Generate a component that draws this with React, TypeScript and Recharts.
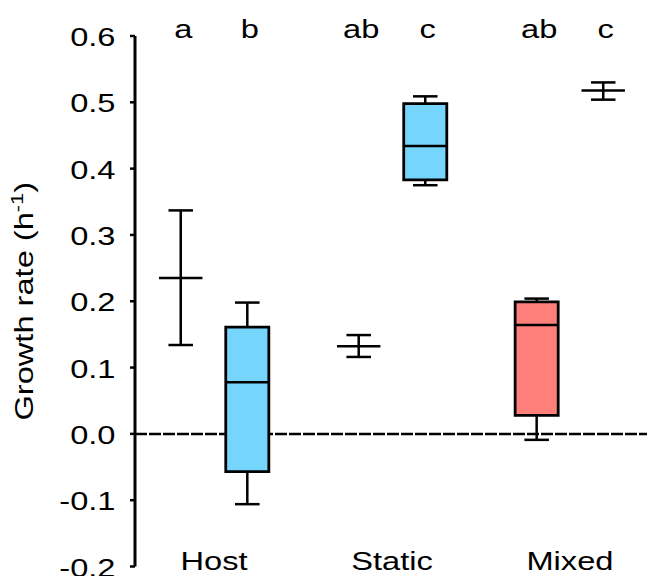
import React from 'react';
import { ComposedChart, XAxis, YAxis, ReferenceArea, ReferenceLine, Scatter } from 'recharts';

// ---------- data ----------
const groupNames = ['Host', 'Static', 'Mixed'];
const groupIndex = [1, 2, 3];
const yTicks = [-0.2, -0.1, 0, 0.1, 0.2, 0.3, 0.4, 0.5, 0.6];

// six measurements, two per group: left / right
const itemGroup = [1, 1, 2, 2, 3, 3];
const itemSide = [-1, 1, -1, 1, -1, 1];
const itemIsBox = [false, true, false, true, true, false];
const itemLetter = ['a', 'b', 'ab', 'c', 'ab', 'c'];
const itemLow = [0.134, -0.106, 0.116, 0.375, -0.009, 0.504];
const itemQ1: (number | null)[] = [null, -0.057, null, 0.383, 0.028, null];
const itemMid = [0.235, 0.078, 0.132, 0.434, 0.164, 0.518];
const itemQ3: (number | null)[] = [null, 0.161, null, 0.498, 0.199, null];
const itemHigh = [0.337, 0.198, 0.149, 0.509, 0.204, 0.53];

// ---------- styles ----------
const BOX_COLORS: Record<number, string> = { 1: '#76D5FC', 2: '#76D5FC', 3: '#FF7F7B' };
const FONT_FAMILY = '"Liberation Sans", Arial, Helvetica, sans-serif';
const FONT = 25.5;
const STRETCH = 1.28;
const SIDE_OFFSET = 0.187;
const BOX_HALF = 0.121;
const CAP_HALF = 0.069;
const MEAN_HALF = 0.122;
const LW = 2.5;

const itemX = itemGroup.map((g, i) => g + itemSide[i] * SIDE_OFFSET);

const letterData = itemLetter.map((l, i) => ({ x: itemX[i], y: 0.6, label: l }));
const categoryData = groupNames.map((n, i) => ({ x: groupIndex[i], y: -0.2, label: n }));

const StretchText = ({ x, y, dy, anchor, children }: any) => (
  <g transform={`translate(${x},${y})`}>
    <text
      transform={`scale(${STRETCH},1)`}
      x={0}
      y={0}
      dy={dy}
      textAnchor={anchor}
      fontSize={FONT}
      fontFamily={FONT_FAMILY}
      fill="#000"
    >
      {children}
    </text>
  </g>
);

const YTick = (props: any) => {
  const { x, y, payload } = props;
  return (
    <StretchText x={x} y={y} dy={10} anchor="end">
      {Number(payload.value).toFixed(1)}
    </StretchText>
  );
};

const YLabel = (props: any) => {
  const vb = props.viewBox || { x: 0, y: 36, width: 135, height: 530 };
  const cx = vb.x + 33;
  const cy = vb.y + vb.height / 2;
  return (
    <text
      transform={`translate(${cx},${cy}) rotate(-90) scale(${STRETCH},1)`}
      textAnchor="middle"
      fontSize={FONT}
      fontFamily={FONT_FAMILY}
      fill="#000"
    >
      Growth rate (h
      <tspan dy={-10} fontSize={17}>-1</tspan>
      <tspan dy={10}>)</tspan>
    </text>
  );
};

const LetterShape = (props: any) => {
  const { cx, cy, payload } = props;
  return (
    <StretchText x={cx + 2.5} y={cy} dy={1.5} anchor="middle">
      {payload.label}
    </StretchText>
  );
};

const CategoryShape = (props: any) => {
  const { cx, cy, payload } = props;
  return (
    <StretchText x={cx} y={cy} dy={3.5} anchor="middle">
      {payload.label}
    </StretchText>
  );
};

const seg = (x1: number, y1: number, x2: number, y2: number) => [
  { x: x1, y: y1 },
  { x: x2, y: y2 },
];

export default function App() {
  const whiskers: React.ReactNode[] = [];
  const boxes: React.ReactNode[] = [];
  const lines: React.ReactNode[] = [];

  itemX.forEach((cx, i) => {
    const lo = itemLow[i];
    const hi = itemHigh[i];
    const mid = itemMid[i];
    if (itemIsBox[i]) {
      const q1 = itemQ1[i] as number;
      const q3 = itemQ3[i] as number;
      whiskers.push(
        <ReferenceLine key={`wl${i}`} segment={seg(cx, lo, cx, q1)} stroke="#000" strokeWidth={LW} zIndex={60} ifOverflow="visible" />,
        <ReferenceLine key={`wh${i}`} segment={seg(cx, q3, cx, hi)} stroke="#000" strokeWidth={LW} zIndex={60} ifOverflow="visible" />
      );
      boxes.push(
        <ReferenceArea
          key={`b${i}`}
          x1={cx - BOX_HALF}
          x2={cx + BOX_HALF}
          y1={q1}
          y2={q3}
          fill={BOX_COLORS[itemGroup[i]]}
          fillOpacity={1}
          stroke="#000"
          strokeWidth={LW + 0.3}
          zIndex={70}
          ifOverflow="visible"
        />
      );
      lines.push(
        <ReferenceLine key={`m${i}`} segment={seg(cx - BOX_HALF, mid, cx + BOX_HALF, mid)} stroke="#000" strokeWidth={LW} zIndex={80} ifOverflow="visible" />
      );
    } else {
      whiskers.push(
        <ReferenceLine key={`w${i}`} segment={seg(cx, lo, cx, hi)} stroke="#000" strokeWidth={LW} zIndex={60} ifOverflow="visible" />
      );
      lines.push(
        <ReferenceLine key={`m${i}`} segment={seg(cx - MEAN_HALF, mid, cx + MEAN_HALF, mid)} stroke="#000" strokeWidth={LW} zIndex={80} ifOverflow="visible" />
      );
    }
    lines.push(
      <ReferenceLine key={`cl${i}`} segment={seg(cx - CAP_HALF, lo, cx + CAP_HALF, lo)} stroke="#000" strokeWidth={LW} zIndex={80} ifOverflow="visible" />,
      <ReferenceLine key={`ch${i}`} segment={seg(cx - CAP_HALF, hi, cx + CAP_HALF, hi)} stroke="#000" strokeWidth={LW} zIndex={80} ifOverflow="visible" />
    );
  });

  return (
    <div style={{ position: 'absolute', left: 0, top: 0, background: '#fff' }}>
      <ComposedChart width={647} height={576} margin={{ top: 36, right: 0, bottom: 9.5, left: 0 }}>
        <XAxis type="number" dataKey="x" domain={[0.556, 3.433]} ticks={groupIndex} hide />
        <YAxis
          type="number"
          domain={[-0.2, 0.6]}
          ticks={yTicks}
          interval={0}
          width={135}
          tickSize={5}
          tickMargin={14.5}
          axisLine={{ stroke: '#000', strokeWidth: 3 }}
          tickLine={{ stroke: '#000', strokeWidth: 2.5 }}
          tick={<YTick />}
          label={{ content: (p: any) => <YLabel {...p} /> }}
        />
        <ReferenceLine y={0} stroke="#000" strokeWidth={LW} strokeDasharray="12 2" zIndex={50} />
        {whiskers}
        {boxes}
        {lines}
        <Scatter data={letterData} dataKey="y" shape={<LetterShape />} isAnimationActive={false} />
        <Scatter data={categoryData} dataKey="y" shape={<CategoryShape />} isAnimationActive={false} />
      </ComposedChart>
    </div>
  );
}
